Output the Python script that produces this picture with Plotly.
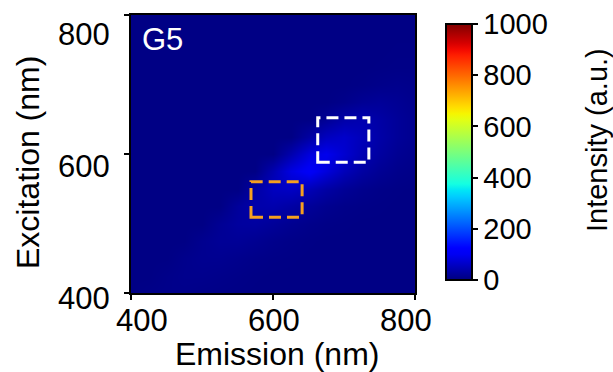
import numpy as np
import plotly.graph_objects as go

emission = [400 + 25 * i for i in range(17)]
excitation = [400 + 25 * i for i in range(17)]

B = 5
# rows: excitation 400 -> 800, cols: emission 400 -> 800
intensity = [
    [B, 8, 10, 10, 8, 7, 6, 5, 5, 5, 5, 5, 5, 5, 5, 5, 5],               # 400
    [B, B, 9, 12, 12, 10, 8, 6, 5, 5, 5, 5, 5, 5, 5, 5, 5],              # 425
    [B, B, B, 11, 15, 15, 12, 9, 7, 6, 5, 5, 5, 5, 5, 5, 5],             # 450
    [B, B, B, B, 14, 20, 20, 16, 11, 8, 6, 5, 5, 5, 5, 5, 5],            # 475
    [B, B, B, B, B, 18, 27, 28, 22, 15, 10, 7, 6, 5, 5, 5, 5],           # 500
    [B, B, B, B, B, B, 24, 38, 40, 32, 22, 14, 9, 7, 6, 5, 5],           # 525
    [B, B, B, B, B, B, B, 32, 55, 60, 48, 32, 20, 12, 8, 6, 5],          # 550
    [B, B, B, B, B, B, B, B, 42, 85, 110, 80, 50, 30, 18, 11, 8],        # 575
    [B, B, B, B, B, B, B, B, B, 40, 80, 95, 70, 45, 28, 17, 11],         # 600
    [B, B, B, B, B, B, B, B, B, B, 30, 55, 65, 50, 34, 22, 14],          # 625
    [B, B, B, B, B, B, B, B, B, B, B, 18, 35, 42, 32, 22, 14],           # 650
    [B, B, B, B, B, B, B, B, B, B, B, B, 10, 18, 22, 18, 12],            # 675
    [B, B, B, B, B, B, B, B, B, B, B, B, B, 7, 10, 12, 10],              # 700
    [B, B, B, B, B, B, B, B, B, B, B, B, B, B, 6, 7, 7],                 # 725
    [B, B, B, B, B, B, B, B, B, B, B, B, B, B, B, 6, 6],                 # 750
    [B, B, B, B, B, B, B, B, B, B, B, B, B, B, B, B, 5],                 # 775
    [B, B, B, B, B, B, B, B, B, B, B, B, B, B, B, B, B],                 # 800
]

axis_ticks = [400, 600, 800]
axis_tick_labels = ["400", "600", "800"]
cbar_ticks = [0, 200, 400, 600, 800, 1000]

white_box = dict(x0=663, x1=735, y0=588, y1=652)
orange_box = dict(x0=569, x1=641, y0=509, y1=560)

# matplotlib-style jet colormap
def jet(t):
    r = np.interp(t, [0, 0.35, 0.66, 0.89, 1], [0, 0, 1, 1, 0.5])
    g = np.interp(t, [0, 0.125, 0.375, 0.64, 0.91, 1], [0, 0, 1, 1, 0, 0])
    b = np.interp(t, [0, 0.11, 0.34, 0.65, 1], [0.5, 1, 1, 0, 0])
    return f"rgb({int(r*255)},{int(g*255)},{int(b*255)})"

stops = np.linspace(0, 1, 41)
colorscale = [[float(s), jet(s)] for s in stops]

FONT = "Liberation Sans, Arial, sans-serif"
W, H = 613, 372
L, R, T, Bm = 131, 198, 15, 79
PW, PH = W - L - R, H - T - Bm

def px(xp):
    return (xp - L) / PW

def py(yp):
    return 1 - (yp - T) / PH

fig = go.Figure()
fig.add_trace(go.Heatmap(
    x=emission, y=excitation, z=intensity,
    zmin=0, zmax=1000, zsmooth="best",
    colorscale=colorscale, hoverinfo="skip",
    colorbar=dict(
        x=px(446), xanchor="left", xref="paper", xpad=0,
        y=py(152), yanchor="middle", len=256 / PH, lenmode="fraction", ypad=0,
        thickness=26, outlinecolor="black", outlinewidth=2,
        tickvals=cbar_ticks, ticks="outside", ticklen=5, tickcolor="black",
        tickwidth=1.5,
        tickfont=dict(family=FONT, size=29, color="black"),
    ),
    showscale=True,
))

for box, col in [(white_box, "white"), (orange_box, "#f5a020")]:
    fig.add_shape(type="rect", xref="x", yref="y", **box,
                  line=dict(color=col, width=3, dash="12px,6px"))

fig.add_annotation(x=px(140), y=py(20), xref="paper", yref="paper",
                   text="G5", showarrow=False, xanchor="left", yanchor="top",
                   font=dict(family=FONT, size=31, color="white"))

# tick labels (placed where the reference shows them)
for v, lab in zip(axis_ticks, axis_tick_labels):
    xc = 274 + (v - 600) / 200 * 132
    fig.add_annotation(x=px(xc), y=py(320), xref="paper", yref="paper",
                       text=lab, showarrow=False, xanchor="center",
                       yanchor="middle",
                       font=dict(family=FONT, size=31, color="black"))
    yc = 166 - (v - 600) / 200 * 132
    fig.add_annotation(x=px(112), y=py(yc), xref="paper", yref="paper",
                       text=lab, showarrow=False, xanchor="right",
                       yanchor="middle",
                       font=dict(family=FONT, size=31, color="black"))

# axis / colorbar titles
fig.add_annotation(x=px(277), y=py(354), xref="paper", yref="paper",
                   text="Emission (nm)", showarrow=False,
                   xanchor="center", yanchor="middle",
                   font=dict(family=FONT, size=32, color="black"))
fig.add_annotation(x=px(28), y=py(163), xref="paper", yref="paper",
                   text="Excitation (nm)", showarrow=False, textangle=-90,
                   xanchor="center", yanchor="middle",
                   font=dict(family=FONT, size=32, color="black"))
fig.add_annotation(x=px(597), y=py(140), xref="paper", yref="paper",
                   text="Intensity (a.u.)", showarrow=False, textangle=-90,
                   xanchor="center", yanchor="middle",
                   font=dict(family=FONT, size=29, color="black"))

axis_common = dict(
    range=[400, 800], tickvals=axis_ticks, ticks="outside", ticklen=5,
    tickcolor="black", tickwidth=1.5, showline=True, linecolor="black",
    linewidth=2, mirror=True, showgrid=False, zeroline=False,
    showticklabels=False,
)

fig.update_layout(
    width=W, height=H,
    margin=dict(l=L, r=R, t=T, b=Bm, autoexpand=False),
    paper_bgcolor="white", plot_bgcolor="white",
    xaxis=dict(**axis_common),
    yaxis=dict(**axis_common),
)

fig.write_html("out.html",
               config={"displayModeBar": False},
               post_script="document.body.style.margin='0';"
                           "document.body.style.overflow='hidden';")
